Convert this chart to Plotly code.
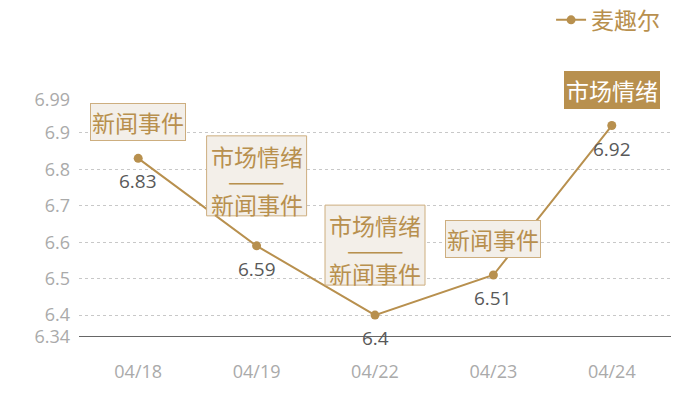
import plotly.graph_objects as go

# data
dates = ["04/18", "04/19", "04/22", "04/23", "04/24"]
prices = [6.83, 6.59, 6.4, 6.51, 6.92]
tags = [["新闻事件"], ["市场情绪", "新闻事件"], ["市场情绪", "新闻事件"], ["新闻事件"], ["市场情绪"]]
highlight = [False, False, False, False, True]
y_ticks = [6.34, 6.4, 6.5, 6.6, 6.7, 6.8, 6.9, 6.99]
series_name = "麦趣尔"

GOLD = "#b8904e"
BOX_BG = "#f3efe9"
BOX_LINE = "#cdae7f"
CJK = "Noto Sans CJK SC, sans-serif"
NUM = "Open Sans, Noto Sans CJK SC, sans-serif"

fig = go.Figure()
fig.add_trace(go.Scatter(
    x=dates, y=prices, name=series_name,
    mode="lines+markers",
    line=dict(color=GOLD, width=2),
    marker=dict(color=GOLD, size=9),
    cliponaxis=False,
))

for d, p, t, hl in zip(dates, prices, tags, highlight):
    # value label under the point
    fig.add_annotation(
        x=d, y=p, text=str(p), showarrow=False,
        yanchor="middle", yshift=-23,
        font=dict(size=19, color="#595959", family=NUM),
    )
    if len(t) == 1:
        fig.add_annotation(
            x=d, y=p, text=t[0], showarrow=False,
            yanchor="bottom", yshift=17,
            font=dict(size=23, color="white" if hl else GOLD, family=CJK),
            bgcolor=GOLD if hl else BOX_BG,
            bordercolor=GOLD if hl else BOX_LINE,
            borderwidth=1, borderpad=1,
        )
    else:
        # two labels stacked with a separator, box drawn as a pixel sized shape
        fig.add_shape(
            type="rect", xref="x", yref="y",
            xsizemode="pixel", ysizemode="pixel",
            xanchor=d, yanchor=p,
            x0=-50, x1=50, y0=30, y1=110,
            fillcolor=BOX_BG, line=dict(color=BOX_LINE, width=1),
            layer="above",
        )
        for txt, shift in [(t[0], 90), ("———", 66), (t[1], 42)]:
            fig.add_annotation(
                x=d, y=p, text=txt, showarrow=False,
                yanchor="middle", yshift=shift,
                font=dict(size=23, color=GOLD, family=CJK),
            )

# page body adds an 8px margin, so the figure is sized a little smaller
fig.update_layout(
    width=692, height=392,
    margin=dict(l=71, r=29, t=92, b=63, autoexpand=False),
    paper_bgcolor="white", plot_bgcolor="white",
    font=dict(family=NUM),
    showlegend=True,
    legend=dict(
        x=0.99, y=1.338, xanchor="right", yanchor="middle",
        orientation="h",
        font=dict(size=23, color=GOLD, family=CJK),
        itemwidth=30,
    ),
    xaxis=dict(
        type="category", range=[-0.5, 4.5],
        showgrid=False, showline=False, zeroline=False,
        ticks="", ticklabelstandoff=22,
        tickfont=dict(size=18, color="#aaaaaa"),
    ),
    yaxis=dict(
        range=[6.34, 6.99], tickvals=y_ticks,
        ticktext=[str(v) for v in y_ticks],
        showgrid=True, gridcolor="#c8c8c8", griddash="dot", gridwidth=1,
        zeroline=False, showline=False, ticks="", ticklabelstandoff=8,
        tickfont=dict(size=18, color="#aaaaaa"),
    ),
)
# solid base line at the bottom of the axis
fig.add_hline(y=6.34, line=dict(color="#333333", width=1.5))

fig.write_html("out.html")
